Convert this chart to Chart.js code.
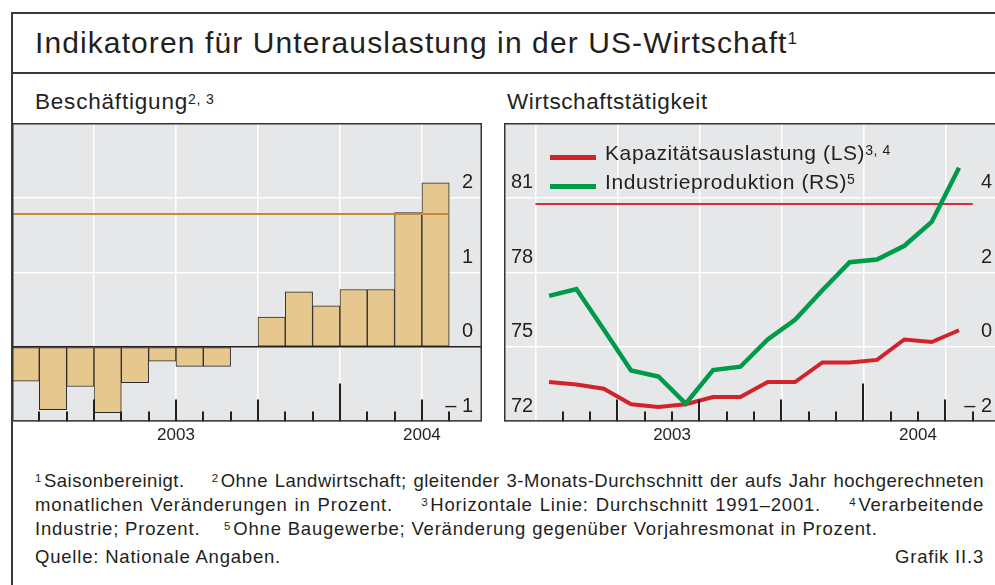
<!DOCTYPE html>
<html>
<head>
<meta charset="utf-8">
<script src="https://cdn.jsdelivr.net/npm/chart.js@4.4.0/dist/chart.umd.min.js"></script>
<style>
  body { margin: 0; width: 995px; height: 585px; overflow: hidden; background: #fff; position: relative;
         font-family: "Liberation Sans", Arial, sans-serif; color: #231f20; }
  .t { position: absolute; white-space: nowrap; line-height: 1; }
  .line { position: absolute; background: #3a3a3a; }
  .sw { position: absolute; height: 5px; width: 46px; }
  sup { font-size: 0.62em; vertical-align: baseline; position: relative; top: -0.45em; margin-right: 2px; }
  .fn { position: absolute; left: 35px; width: 949px; font-size: 18.5px; line-height: 1; white-space: nowrap; letter-spacing: 0.8px; }
  .just { text-align: justify; text-align-last: justify; }
  canvas { position: absolute; }
</style>
</head>
<body>
<div class="line" style="left:11px; top:12px; width:990px; height:1.5px"></div>
<div class="line" style="left:11px; top:12px; width:1.5px; height:580px"></div>
<div class="line" style="left:11px; top:72px; width:990px; height:1.5px"></div>

<div class="t" style="left:35px; top:27.6px; font-size:30px; letter-spacing:1.1px">Indikatoren für Unterauslastung in der US-Wirtschaft<sup style="font-size:17px; top:-9px">1</sup></div>
<div class="t" style="left:35px; top:91px; font-size:22.5px; letter-spacing:0.8px">Beschäftigung<sup style="font-size:14px; top:-5px">2, 3</sup></div>
<div class="t" style="left:507px; top:91px; font-size:22.5px; letter-spacing:0.6px">Wirtschaftstätigkeit</div>

<canvas id="left" width="470" height="327" style="left:12px; top:123px"></canvas>
<canvas id="right" width="496" height="327" style="left:504px; top:123px"></canvas>

<div class="sw" style="left:550px; top:155px; background:#d2232a"></div>
<div class="sw" style="left:550px; top:183.5px; background:#009b48"></div>
<div class="t" style="left:605px; top:142.2px; font-size:21px; letter-spacing:0.6px">Kapazitätsauslastung (LS)<sup style="font-size:14px; top:-5px">3, 4</sup></div>
<div class="t" style="left:605px; top:170.5px; font-size:21px; letter-spacing:0.6px">Industrieproduktion (RS)<sup style="font-size:14px; top:-5px">5</sup></div>

<div class="fn just" style="top:472.3px; letter-spacing:0.5px"><sup>1</sup>Saisonbereinigt.&nbsp;&nbsp;&nbsp; <sup>2</sup>Ohne Landwirtschaft; gleitender 3-Monats-Durchschnitt der aufs Jahr hochgerechneten</div>
<div class="fn just" style="top:496.3px">monatlichen Veränderungen in Prozent.&nbsp;&nbsp;&nbsp; <sup>3</sup>Horizontale Linie: Durchschnitt 1991–2001.&nbsp;&nbsp;&nbsp; <sup>4</sup>Verarbeitende</div>
<div class="fn" style="top:520.3px">Industrie; Prozent.&nbsp;&nbsp;&nbsp; <sup>5</sup>Ohne Baugewerbe; Veränderung gegenüber Vorjahresmonat in Prozent.</div>
<div class="fn" style="top:548.3px">Quelle: Nationale Angaben.</div>
<div class="fn" style="top:548.3px; text-align:right">Grafik II.3</div>

<script>
// months Jan 2003 .. Apr 2004
var months = ['Jan 03', 'Feb 03', 'Mär 03', 'Apr 03', 'Mai 03', 'Jun 03', 'Jul 03', 'Aug 03',
              'Sep 03', 'Okt 03', 'Nov 03', 'Dez 03', 'Jan 04', 'Feb 04', 'Mär 04', 'Apr 04'];
var yearLabels = ['2003', '2004'];

// Beschäftigung, % (bars) and 1991-2001 average
var employment = [-0.46, -0.84, -0.53, -0.88, -0.48, -0.19, -0.26, -0.26,
                  0, 0.40, 0.74, 0.55, 0.77, 0.77, 1.80, 2.20];
var employmentAvg = 1.78;

// Kapazitätsauslastung (LS) and its average
var capacity = [73.59, 73.49, 73.32, 72.70, 72.59, 72.70, 72.99, 72.99,
                73.59, 73.59, 74.38, 74.38, 74.48, 75.30, 75.20, 75.67];
var capacityAvg = 80.74;

// Industrieproduktion (RS), % yoy
var production = [1.37, 1.55, 0.47, -0.63, -0.79, -1.52, -0.62, -0.53,
                  0.20, 0.73, 1.52, 2.27, 2.34, 2.71, 3.35, 4.80];

// where the year labels sit on the month axis of each panel
var leftYearPos = [6, 15];
var rightYearPos = [5, 14];
var quarterTicks = [0, 3, 6, 9, 12, 15];

Chart.defaults.font.family = '"Liberation Sans", Arial, sans-serif';
Chart.defaults.color = '#231f20';
Chart.defaults.animation = false;

function points(values) {
    return values.map(function (v, i) { return { x: i + 0.5, y: v }; });
}
function flatLine(v) {
    return [{ x: 0, y: v }, { x: months.length, y: v }];
}
function tickText(max) {
    return function (v) {
        if (v === max) return null;
        return v < 0 ? '\u2013 ' + Math.abs(v) : String(v);
    };
}
function noPad(scale) {
    scale.paddingTop = 0; scale.paddingBottom = 0;
    scale.paddingLeft = 0; scale.paddingRight = 0;
}
// labels sit inside the plot, so the y axes take no room
function yFit(scale) {
    noPad(scale);
    scale.width = 0;
}

// grey plot background, month ticks and the panel frame
var panelPlugin = {
    id: 'panel',
    beforeDraw: function (chart) {
        var a = chart.chartArea, ctx = chart.ctx;
        ctx.save();
        ctx.fillStyle = '#e6e7e9';
        ctx.fillRect(a.left, a.top, a.right - a.left, a.bottom - a.top);
        ctx.restore();
    },
    afterDatasetsDraw: function (chart) {
        var a = chart.chartArea, ctx = chart.ctx, x = chart.scales.x;
        ctx.save();
        ctx.strokeStyle = '#231f20';
        ctx.lineWidth = 2;
        for (var m = 1; m <= months.length; m++) {
            var h = m % 12 === 0 ? 38 : (m % 3 === 0 ? 22 : 10);
            var px = Math.round(x.getPixelForValue(m));
            ctx.beginPath();
            ctx.moveTo(px, a.bottom);
            ctx.lineTo(px, a.bottom - h);
            ctx.stroke();
        }
        ctx.strokeStyle = '#333';
        ctx.lineWidth = 1.5;
        ctx.strokeRect(a.left + 0.75, a.top + 0.75, a.right - a.left - 1.5, a.bottom - a.top - 1.5);
        ctx.restore();
    }
};

function monthAxis(min, max) {
    return {
        type: 'linear', min: min, max: max, offset: false,
        afterBuildTicks: function (s) { s.ticks = quarterTicks.map(function (v) { return { value: v }; }); },
        afterFit: noPad,
        ticks: { display: false },
        grid: { color: '#ffffff', lineWidth: 1.5, drawTicks: false, offset: false },
        border: { display: false }
    };
}
function yearAxis(min, max, pos) {
    return {
        type: 'linear', axis: 'x', position: 'bottom', min: min, max: max, offset: false,
        afterBuildTicks: function (s) { s.ticks = pos.map(function (v) { return { value: v }; }); },
        afterFit: noPad,
        ticks: {
            callback: function (v, i) { return yearLabels[i]; },
            font: { size: 17 }, padding: 4, maxRotation: 0, autoSkip: false
        },
        grid: { display: false, drawTicks: false },
        border: { display: false }
    };
}

new Chart(document.getElementById('left'), {
    type: 'bar',
    data: {
        datasets: [{
            type: 'line',
            data: flatLine(employmentAvg),
            borderColor: '#c8863e',
            borderWidth: 2,
            pointRadius: 0,
            order: 0
        }, {
            data: points(employment),
            backgroundColor: '#e6c78e',
            borderColor: '#2b2b2b',
            borderWidth: 1,
            borderSkipped: false,
            barPercentage: 1,
            categoryPercentage: 1,
            order: 1
        }]
    },
    options: {
        responsive: false,
        layout: { padding: 0 },
        plugins: { legend: { display: false }, tooltip: { enabled: false } },
        scales: {
            x: monthAxis(0, 17.2),
            xYear: yearAxis(0, 17.2, leftYearPos),
            y: {
                position: 'right', min: -1, max: 3,
                afterFit: yFit,
                ticks: { stepSize: 1, mirror: true, padding: -9, labelOffset: -15,
                         font: { size: 20 }, callback: tickText(3) },
                grid: {
                    drawTicks: false, lineWidth: 1.5,
                    color: function (c) {
                        if (c.tick.value === 0) return '#231f20';
                        return (c.tick.value === 1 || c.tick.value === 2) ? '#ffffff' : 'rgba(0,0,0,0)';
                    }
                },
                border: { display: false }
            }
        }
    },
    plugins: [panelPlugin]
});

new Chart(document.getElementById('right'), {
    type: 'line',
    data: {
        datasets: [{
            label: 'Industrieproduktion (RS)',
            data: points(production),
            yAxisID: 'yR',
            borderColor: '#009b48',
            borderWidth: 4.5,
            borderJoinStyle: 'miter',
            pointRadius: 0,
            order: 0
        }, {
            label: 'Kapazitätsauslastung (LS)',
            data: points(capacity),
            yAxisID: 'yL',
            borderColor: '#d2232a',
            borderWidth: 4,
            borderJoinStyle: 'miter',
            pointRadius: 0,
            order: 1
        }, {
            data: flatLine(capacityAvg),
            yAxisID: 'yL',
            borderColor: '#d2303a',
            borderWidth: 2,
            pointRadius: 0,
            order: 2
        }]
    },
    options: {
        responsive: false,
        layout: { padding: 0 },
        plugins: { legend: { display: false }, tooltip: { enabled: false } },
        scales: {
            x: monthAxis(-1.15, 17),
            xYear: yearAxis(-1.15, 17, rightYearPos),
            yL: {
                position: 'left', min: 72, max: 84,
                afterFit: yFit,
                ticks: { stepSize: 3, mirror: true, padding: 7, labelOffset: -15,
                         font: { size: 20 }, callback: tickText(84) },
                grid: {
                    drawTicks: false, lineWidth: 1.5,
                    color: function (c) {
                        var v = c.tick.value;
                        return (v > 72 && v < 84) ? '#ffffff' : 'rgba(0,0,0,0)';
                    }
                },
                border: { display: false }
            },
            yR: {
                position: 'right', min: -2, max: 6,
                afterFit: yFit,
                ticks: { stepSize: 2, mirror: true, padding: -8, labelOffset: -15,
                         font: { size: 20 }, callback: tickText(6) },
                grid: { display: false, drawTicks: false },
                border: { display: false }
            }
        }
    },
    plugins: [panelPlugin]
});
</script>
</body>
</html>
